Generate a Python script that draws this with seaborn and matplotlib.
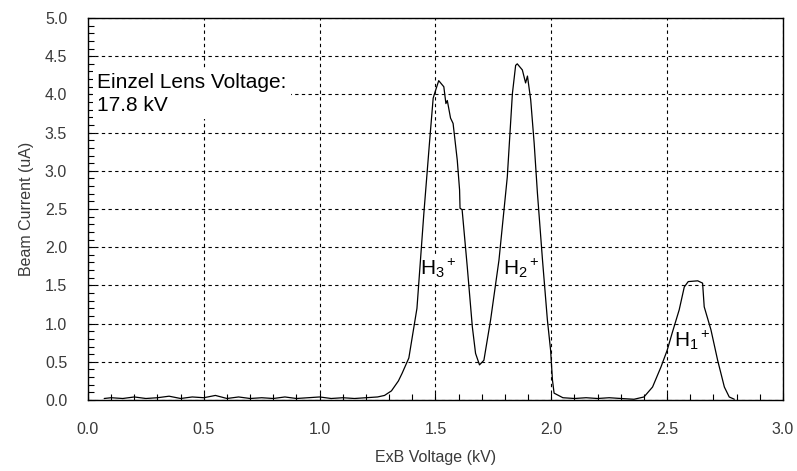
import matplotlib
matplotlib.use("Agg")
from matplotlib import pyplot as plt
from matplotlib.ticker import MultipleLocator
import seaborn as sns
import pandas as pd

# ExB scan, einzel lens at 17.8 kV
voltage = [0.07, 0.10, 0.15, 0.20, 0.25, 0.30, 0.35, 0.40, 0.45, 0.50,
           0.55, 0.60, 0.65, 0.70, 0.75, 0.80, 0.85, 0.90, 0.95, 1.00,
           1.05, 1.10, 1.15, 1.20, 1.25, 1.28, 1.31, 1.34, 1.356, 1.385,
           1.42, 1.45, 1.475, 1.490, 1.497, 1.514, 1.536, 1.545, 1.551, 1.565,
           1.576, 1.594, 1.604, 1.606, 1.615, 1.637, 1.659, 1.673, 1.690, 1.709,
           1.738, 1.774, 1.810, 1.832, 1.846, 1.853, 1.875, 1.889, 1.897, 1.911,
           1.926, 1.940, 1.962, 1.983, 1.997, 2.005, 2.012, 2.05, 2.10, 2.15,
           2.20, 2.25, 2.30, 2.357, 2.40, 2.437, 2.473, 2.50, 2.523, 2.552,
           2.574, 2.591, 2.632, 2.653, 2.660, 2.689, 2.718, 2.747, 2.768, 2.79]
current = [0.02, 0.03, 0.02, 0.04, 0.02, 0.03, 0.05, 0.02, 0.04, 0.03,
           0.06, 0.02, 0.04, 0.02, 0.03, 0.02, 0.04, 0.02, 0.03, 0.04,
           0.02, 0.03, 0.02, 0.03, 0.04, 0.06, 0.12, 0.25, 0.35, 0.55,
           1.20, 2.45, 3.40, 3.95, 4.02, 4.18, 4.10, 3.88, 3.92, 3.69,
           3.62, 3.14, 2.75, 2.51, 2.49, 1.75, 0.96, 0.61, 0.46, 0.52,
           1.05, 1.83, 2.92, 4.01, 4.38, 4.40, 4.32, 4.15, 4.24, 3.93,
           3.36, 2.71, 1.83, 1.05, 0.65, 0.26, 0.09, 0.03, 0.02, 0.03,
           0.02, 0.03, 0.02, 0.01, 0.04, 0.17, 0.43, 0.65, 0.89, 1.18,
           1.48, 1.55, 1.56, 1.53, 1.22, 0.92, 0.52, 0.17, 0.04, 0.01]

peak_labels = [r"H$_3$$^+$", r"H$_2$$^+$", r"H$_1$$^+$"]
label_x = [1.51, 1.87, 2.61]
label_y = [1.72, 1.72, 0.78]

df = pd.DataFrame({"ExB Voltage (kV)": voltage, "Beam Current (uA)": current})

sns.set_style("ticks")
plt.rcParams["font.family"] = ["Liberation Sans Narrow", "Liberation Sans", "DejaVu Sans"]
plt.rcParams["mathtext.fontset"] = "custom"
plt.rcParams["mathtext.rm"] = "Liberation Sans"
plt.rcParams["mathtext.it"] = "Liberation Sans"

fig = plt.figure(figsize=(7.97, 4.71), dpi=100)
ax = fig.add_axes([0.1104, 0.1507, 0.8720, 0.8111])

sns.lineplot(data=df, x="ExB Voltage (kV)", y="Beam Current (uA)", ax=ax,
             color="black", linewidth=0.9, sort=False, estimator=None)

ax.set_xlim(0, 3.0)
ax.set_ylim(0, 5.0)
ax.xaxis.set_major_locator(MultipleLocator(0.5))
ax.yaxis.set_major_locator(MultipleLocator(0.5))
ax.xaxis.set_minor_locator(MultipleLocator(0.1))
ax.yaxis.set_minor_locator(MultipleLocator(0.1))
ax.set_xticklabels([f"{v:.1f}" for v in ax.get_xticks()])
ax.set_yticklabels([f"{v:.1f}" for v in ax.get_yticks()])
ax.tick_params(which="both", direction="in", top=False, right=False, colors="black",
               labelcolor="#3a3a3a", labelsize=11.5)
ax.tick_params(which="major", length=5, width=0.8)
ax.tick_params(which="minor", length=4, width=0.8)
ax.tick_params(axis="x", which="major", pad=16)
ax.tick_params(axis="y", which="major", pad=15)
ax.grid(True, which="major", color="black", linestyle=(0, (3, 3)), linewidth=0.8)
for s in ax.spines.values():
    s.set_visible(True)
    s.set_color("black")
    s.set_linewidth(1.0)

ax.set_xlabel("ExB Voltage (kV)", fontsize=11.5, color="#3a3a3a", labelpad=9)
ax.set_ylabel("Beam Current (uA)", fontsize=11.5, color="#3a3a3a", labelpad=8)

ax.text(0.04, 4.01, "Einzel Lens Voltage:\n17.8 kV", fontsize=15, linespacing=1.25,
        family=["Liberation Sans", "DejaVu Sans"], va="center", ha="left", color="black",
        zorder=1.5, bbox=dict(facecolor="white", edgecolor="none", pad=3))

for t, x, y in zip(peak_labels, label_x, label_y):
    ax.text(x, y, t, fontsize=15, family=["Liberation Sans", "DejaVu Sans"],
            ha="center", va="center", color="black", zorder=1.5,
            bbox=dict(facecolor="white", edgecolor="none", pad=0.5))

fig.savefig("out.png", dpi=100)
